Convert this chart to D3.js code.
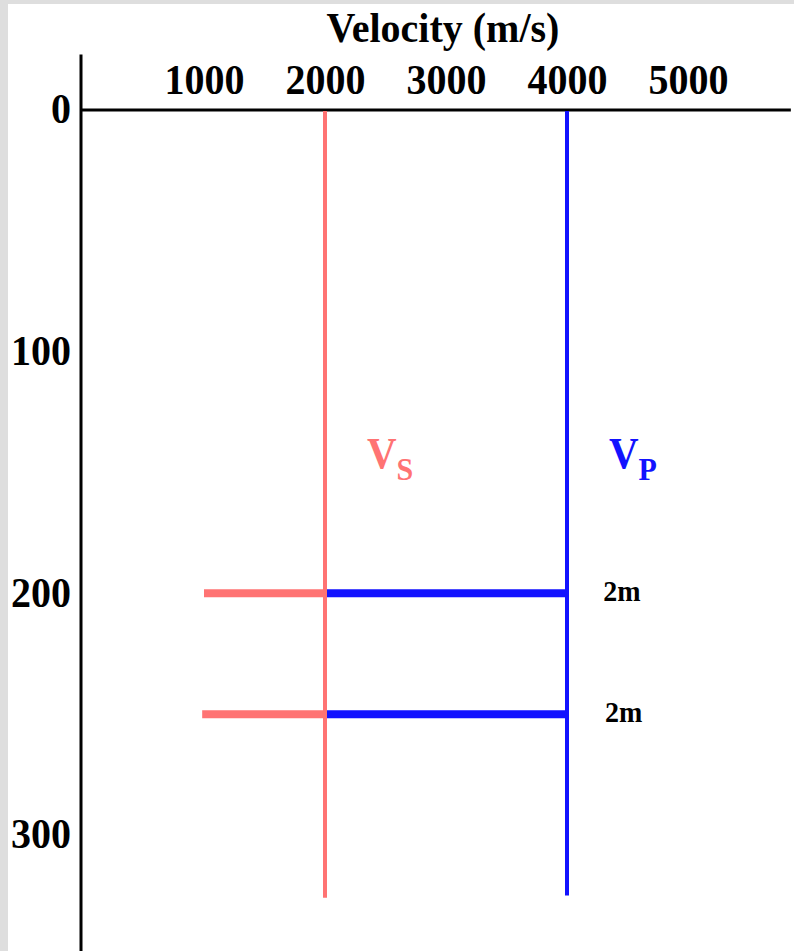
<!DOCTYPE html>
<html>
<head>
<meta charset="utf-8">
<script src="https://cdn.jsdelivr.net/npm/d3@7"></script>
<style>
  body { margin: 0; background: #dedede; }
  svg { display: block; }
  text { font-family: "Liberation Serif", "Times New Roman", serif; font-weight: bold; }
</style>
</head>
<body>
<svg id="chart"></svg>
<script>
// Define constants
const width = 794;
const height = 951;
const stretch = 1.06; // glyphs in the source look a bit taller than wide

// Data
const velocityTicks = [1000, 2000, 3000, 4000, 5000];
const depthTicks = [0, 100, 200, 300];
const velocityExtent = [0, 5850];
const depthExtent = [-23, 348];

// vertical profiles
const profileNames = ["S", "P"];
const profileVelocity = [2000, 4000];
const profileBottom = [326, 325];
const profileColors = ["#ff7373", "#1212ff"];

// thin layers (horizontal bars)
const layerDepth = [200, 250];
const layerVsStart = [1000, 985];
const layerLabels = ["2m", "2m"];
const layerLabelVelocity = [4300, 4315];

const svg = d3.select("#chart").attr("width", width).attr("height", height);

// stretch a text vertically about its own baseline
function tall(sel) {
  sel.each(function () {
    const t = d3.select(this);
    const tx = +t.attr("x") || 0;
    const ty = +t.attr("y") || 0;
    t.attr("transform", `translate(${tx},${ty}) scale(1,${stretch}) translate(${-tx},${-ty})`);
  });
}

// white sheet, grey strip on left and top
svg.append("rect")
  .attr("x", 8).attr("y", 4)
  .attr("width", width - 8).attr("height", height - 4)
  .attr("fill", "white");

const x = d3.scaleLinear().domain([0, 4000]).range([83, 567]);
const y = d3.scaleLinear().domain([0, 300]).range([110, 835]);

// axes
const xAxis = svg.append("g")
  .attr("transform", `translate(0,${y(0)})`)
  .call(d3.axisTop(x).tickValues(velocityTicks).tickSize(0).tickPadding(16).tickFormat(d3.format("d")));
xAxis.select(".domain").remove();
xAxis.selectAll("text").attr("font-size", 40).attr("font-family", null).attr("fill", "black").call(tall);

const yAxis = svg.append("g")
  .attr("transform", `translate(${x(0) - 2},0)`)
  .call(d3.axisLeft(y).tickValues(depthTicks).tickSize(0).tickPadding(10).tickFormat(d3.format("d")));
yAxis.select(".domain").remove();
yAxis.selectAll("text").attr("font-size", 40).attr("font-family", null).attr("fill", "black")
  .attr("dy", "0.3em").call(tall);

// axis lines
svg.append("line")
  .attr("x1", x(0) - 2).attr("x2", x(0) - 2)
  .attr("y1", y(depthExtent[0])).attr("y2", y(depthExtent[1]))
  .attr("stroke", "black").attr("stroke-width", 3);
svg.append("line")
  .attr("x1", x(0) - 2).attr("x2", x(velocityExtent[1]))
  .attr("y1", y(0)).attr("y2", y(0))
  .attr("stroke", "black").attr("stroke-width", 3);

// title
svg.append("text")
  .attr("x", x(2975)).attr("y", 42)
  .attr("text-anchor", "middle")
  .attr("font-size", 40)
  .text("Velocity (m/s)")
  .call(tall);

// horizontal layer bars
layerDepth.forEach((d, i) => {
  svg.append("line")
    .attr("x1", x(layerVsStart[i])).attr("x2", x(profileVelocity[0]))
    .attr("y1", y(d)).attr("y2", y(d))
    .attr("stroke", profileColors[0]).attr("stroke-width", 8);
  svg.append("line")
    .attr("x1", x(profileVelocity[0])).attr("x2", x(profileVelocity[1]))
    .attr("y1", y(d)).attr("y2", y(d))
    .attr("stroke", profileColors[1]).attr("stroke-width", 8);
  svg.append("text")
    .attr("x", x(layerLabelVelocity[i])).attr("y", y(d) + 8)
    .attr("font-size", 28)
    .text(layerLabels[i])
    .call(tall);
});

// vertical profile lines + labels
profileVelocity.forEach((v, i) => {
  svg.append("line")
    .attr("x1", x(v)).attr("x2", x(v))
    .attr("y1", y(0) + 1).attr("y2", y(profileBottom[i]))
    .attr("stroke", profileColors[i]).attr("stroke-width", 4);
  const label = svg.append("text")
    .attr("x", x(v) + 42).attr("y", y(148))
    .attr("font-size", 41)
    .attr("fill", profileColors[i]);
  label.append("tspan").text("V");
  label.append("tspan").attr("dy", 12).attr("font-size", 30).text(profileNames[i]);
  label.call(tall);
});
</script>
</body>
</html>
